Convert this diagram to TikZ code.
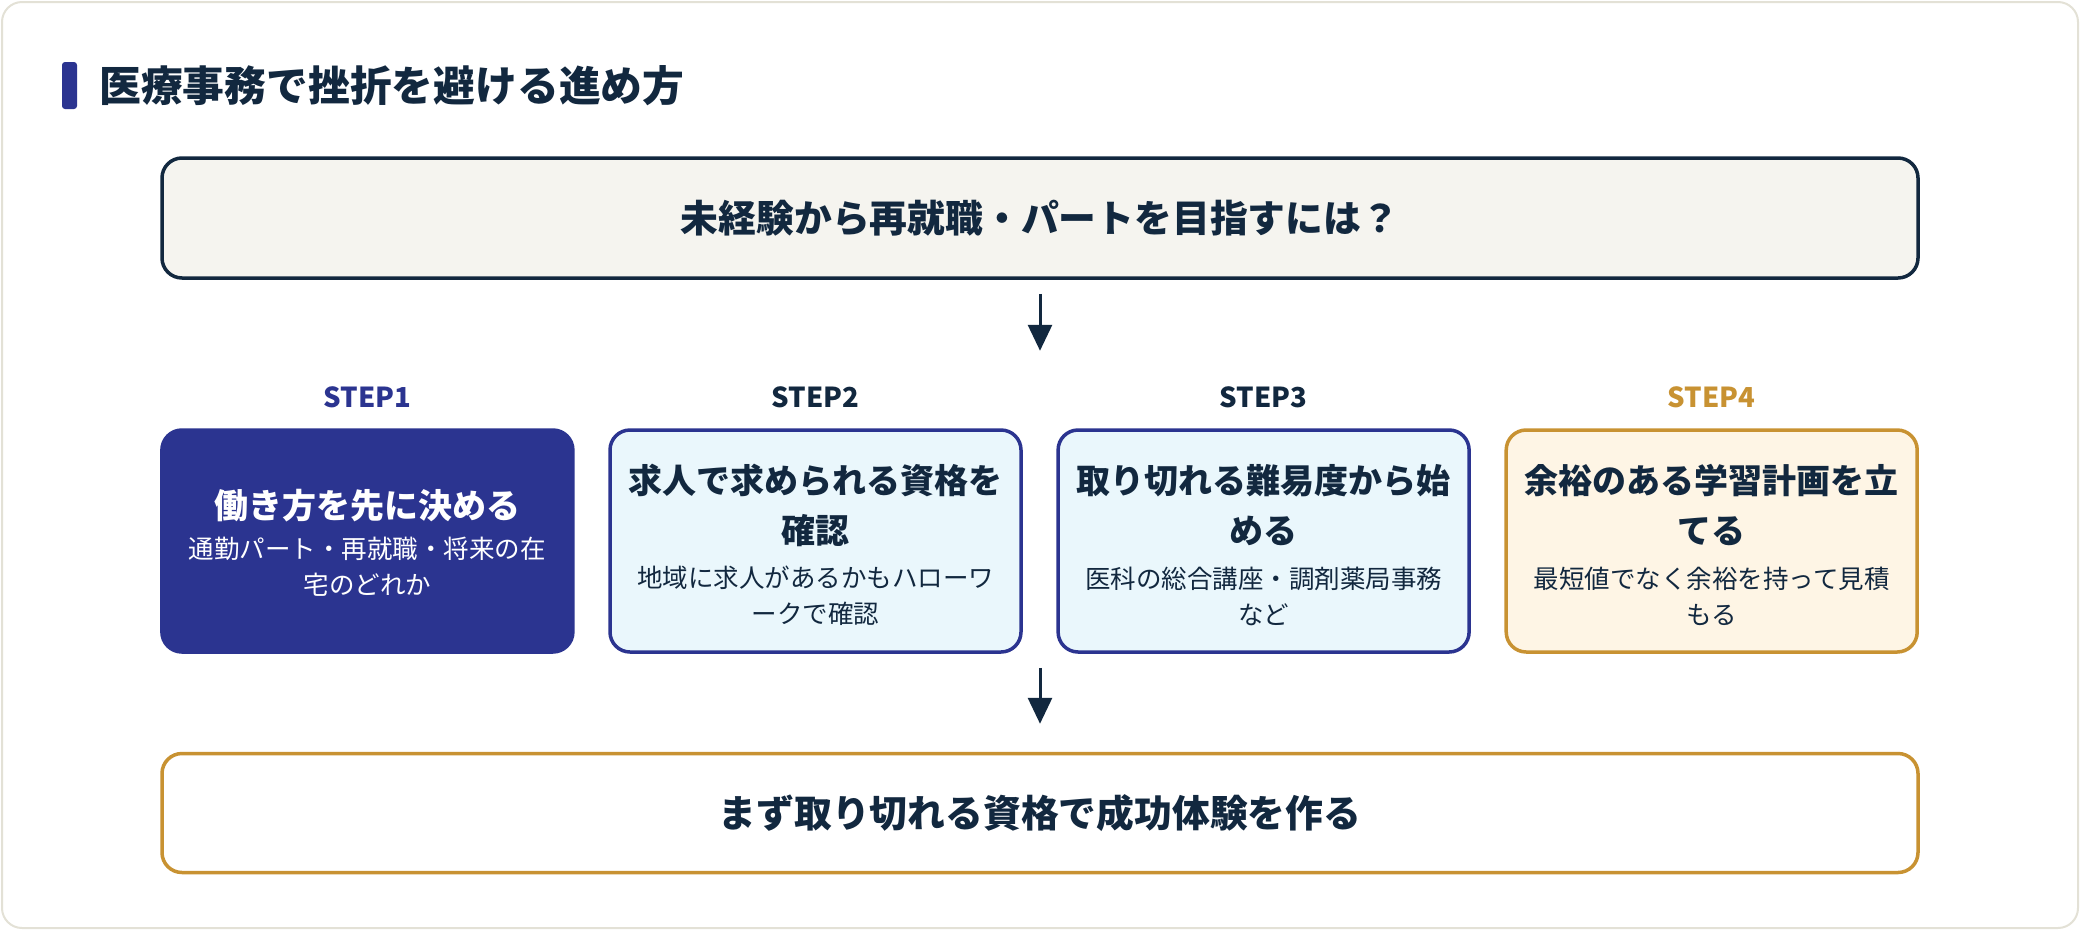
\documentclass[tikz,border=0pt]{standalone}
\usepackage{fontspec}
\setmainfont{Noto Sans CJK JP}
\usetikzlibrary{arrows.meta}
\definecolor{navy}{HTML}{12283F}
\definecolor{indigo}{HTML}{2B3490}
\definecolor{gold}{HTML}{C89232}
\definecolor{cyanfill}{HTML}{EAF7FC}
\definecolor{creamfill}{HTML}{FEF5E5}
\definecolor{topfill}{HTML}{F5F4EF}
\definecolor{framec}{HTML}{E3E1D6}
\tikzset{
  boxbase/.style={rectangle, rounded corners=20pt, line width=3.5pt, minimum width=1756pt, inner sep=0pt},
  stepbox/.style={rectangle, rounded corners=20pt, line width=3.5pt, minimum width=411pt, minimum height=222pt, inner sep=0pt},
  boxtitle/.style={inner sep=0pt, align=center, font=\fontsize{34}{50}\selectfont\bfseries},
  boxsub/.style={inner sep=0pt, align=center, font=\fontsize{25.5}{36}\selectfont},
  steplabel/.style={inner sep=0pt, font=\fontsize{27.5}{32}\selectfont\bfseries},
  bigtext/.style={inner sep=0pt, text=navy, font=\fontsize{37.8}{44}\selectfont\bfseries},
  arr/.style={draw=navy, line width=3pt, -{Triangle[length=26pt,width=24pt]}},
}
\begin{document}
\begin{tikzpicture}[x=1pt,y=-1pt]
\useasboundingbox (0,0) rectangle (2080,930);
\draw[framec, fill=white, line width=2pt, rounded corners=20pt] (2,2) rectangle (2078,928);
% title
\node[fill=indigo, rounded corners=3pt, minimum width=15pt, minimum height=47pt, inner sep=0pt] (tbar) at (69.5,85.5) {};
\node[anchor=west, inner sep=0pt, text=navy, font=\fontsize{41.8}{48}\selectfont\bfseries] (title) at (99,86) {医療事務で挫折を避ける進め方};
% top box
\node[boxbase, draw=navy, fill=topfill, minimum height=120pt] (top) at (1040,218) {};
\node[bigtext] (toptext) at (top.center) {未経験から再就職・パートを目指すには？};
% step labels
\node[steplabel, text=indigo] (l1) at (367.4,397) {STEP1};
\node[steplabel, text=navy] (l2) at (815.5,397) {STEP2};
\node[steplabel, text=navy] (l3) at (1263.6,397) {STEP3};
\node[steplabel, text=gold] (l4) at (1711.7,397) {STEP4};
% step boxes
\node[stepbox, draw=indigo, fill=indigo] (s1) at (367.4,541) {};
\node[stepbox, draw=indigo, fill=cyanfill] (s2) at (815.5,541) {};
\node[stepbox, draw=indigo, fill=cyanfill] (s3) at (1263.6,541) {};
\node[stepbox, draw=gold, fill=creamfill] (s4) at (1711.7,541) {};
\node[boxtitle, text=white] (s1t) at (367.4,506) {働き方を先に決める};
\node[boxsub, text=white] (s1s) at (367.4,567) {通勤パート・再就職・将来の在\\宅のどれか};
\node[boxtitle, text=navy] (s2t) at (815.5,505) {求人で求められる資格を\\確認};
\node[boxsub, text=navy] (s2s) at (815.5,596) {地域に求人があるかもハローワ\\ークで確認};
\node[boxtitle, text=navy] (s3t) at (1263.6,505) {取り切れる難易度から始\\める};
\node[boxsub, text=navy] (s3s) at (1263.6,596) {医科の総合講座・調剤薬局事務\\など};
\node[boxtitle, text=navy] (s4t) at (1711.7,505) {余裕のある学習計画を立\\てる};
\node[boxsub, text=navy] (s4s) at (1711.7,596) {最短値でなく余裕を持って見積\\もる};
% bottom box
\node[boxbase, draw=gold, fill=white, minimum height=119pt] (bot) at (1040,813) {};
\node[bigtext] (bottext) at (bot.center) {まず取り切れる資格で成功体験を作る};
% arrows
\draw[arr] ([yshift=-14pt]top.south) -- ([yshift=-71pt]top.south);
\draw[arr] ([yshift=84pt]bot.north) -- ([yshift=28pt]bot.north);
\end{tikzpicture}
\end{document}
